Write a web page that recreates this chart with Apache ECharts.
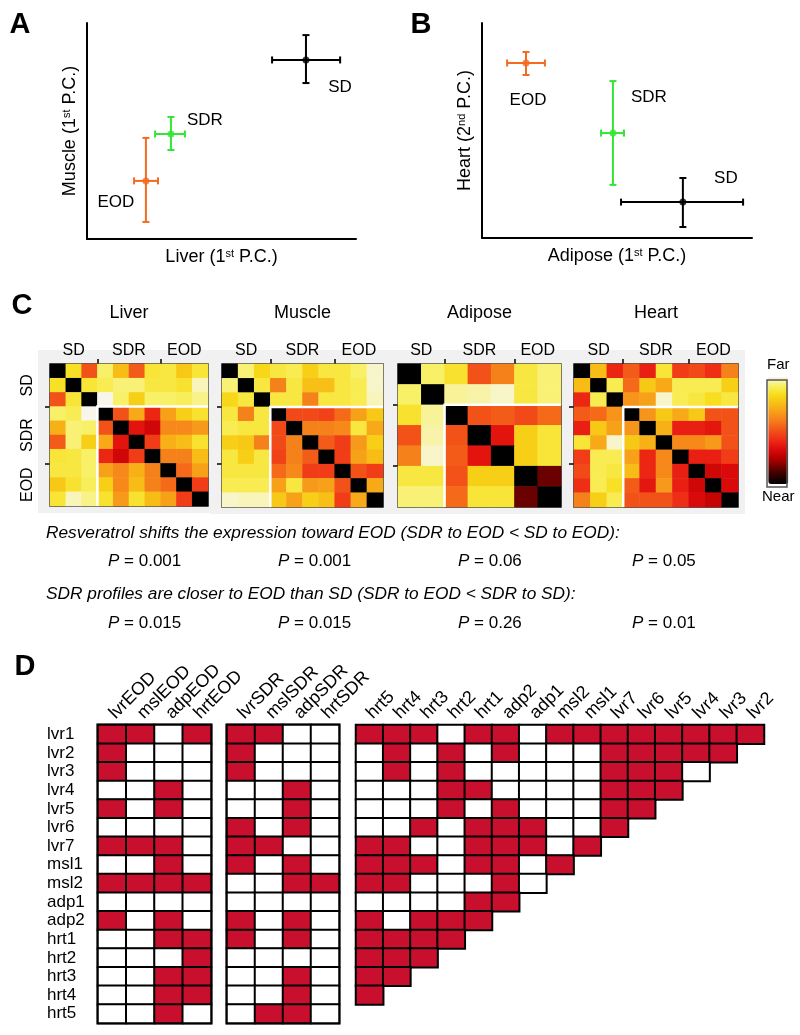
<!DOCTYPE html>
<html><head><meta charset="utf-8">
<script src="https://cdn.jsdelivr.net/npm/echarts@6/dist/echarts.min.js"></script>
<style>html,body{margin:0;padding:0;background:#fff}#c{width:800px;height:1035px}</style>
</head><body><div id="c"></div>
<script>
// ================= DATA =================
const groups = ['SD', 'SDR', 'EOD'];

// Panel A: Liver (1st P.C.) vs Muscle (1st P.C.)  [arbitrary PC units, 0-100]
const aX   = [81.4, 31.2, 21.9];
const aXlo = [68.8, 25.3, 17.5];
const aXhi = [94.1, 36.4, 26.4];
const aY   = [82.9, 48.6, 26.9];
const aYlo = [72.2, 41.2, 7.9];
const aYhi = [94.4, 56.5, 46.8];

// Panel B: Adipose (1st P.C.) vs Heart (2nd P.C.)
const bX   = [74.4, 48.5, 16.3];
const bXlo = [51.5, 44.1, 9.3];
const bXhi = [96.7, 52.6, 23.3];
const bY   = [16.7, 48.8, 81.4];
const bYlo = [5.1, 24.7, 75.8];
const bYhi = [27.9, 73.0, 86.5];

// Panel C: distance matrices (0 = near, 1 = far)
const tissues = ['Liver', 'Muscle', 'Adipose', 'Heart'];
const groupSizes = [[3, 4, 3], [3, 4, 3], [2, 3, 2], [3, 4, 3]];
const liverDist = [
  [0.00,0.85,0.50,0.92,0.75,0.52,0.87,0.88,0.78,0.87],
  [0.85,0.00,0.87,0.90,0.93,0.93,0.88,0.88,0.86,0.97],
  [0.50,0.87,0.00,1.00,0.92,0.80,0.92,0.92,0.91,0.94],
  [0.92,0.90,1.00,0.00,0.50,0.70,0.40,0.68,0.80,0.86],
  [0.72,0.93,0.92,0.50,0.00,0.35,0.30,0.62,0.62,0.66],
  [0.52,0.93,0.80,0.70,0.35,0.00,0.45,0.72,0.75,0.86],
  [0.87,0.88,0.92,0.40,0.30,0.45,0.00,0.60,0.60,0.75],
  [0.88,0.88,0.92,0.68,0.62,0.72,0.60,0.00,0.55,0.68],
  [0.78,0.86,0.91,0.80,0.62,0.75,0.60,0.55,0.00,0.45],
  [0.87,0.97,0.94,0.86,0.66,0.86,0.75,0.68,0.45,0.00]
];
const muscleDist = [
  [0.00,0.93,0.82,0.88,0.90,0.80,0.88,0.88,0.92,0.98],
  [0.93,0.00,0.88,0.60,0.88,0.76,0.76,0.88,0.90,0.98],
  [0.82,0.88,0.00,0.88,0.88,0.60,0.88,0.88,0.90,0.97],
  [0.88,0.60,0.88,0.00,0.48,0.48,0.46,0.55,0.68,0.78],
  [0.90,0.88,0.88,0.48,0.00,0.60,0.60,0.62,0.88,0.70],
  [0.80,0.78,0.60,0.48,0.60,0.00,0.52,0.45,0.66,0.80],
  [0.88,0.80,0.88,0.46,0.60,0.52,0.00,0.45,0.68,0.75],
  [0.88,0.88,0.88,0.55,0.62,0.45,0.45,0.00,0.50,0.45],
  [0.90,0.90,0.90,0.68,0.88,0.66,0.68,0.50,0.00,0.70],
  [0.98,0.97,0.97,0.78,0.68,0.80,0.76,0.45,0.70,0.00]
];
const adiposeDist = [
  [0.00,0.92,0.86,0.50,0.60,0.88,0.93],
  [0.92,0.00,0.95,0.96,0.98,0.88,0.93],
  [0.86,0.95,0.00,0.50,0.52,0.48,0.55],
  [0.50,0.96,0.50,0.00,0.35,0.80,0.87],
  [0.60,0.98,0.52,0.35,0.00,0.80,0.87],
  [0.88,0.88,0.50,0.80,0.80,0.00,0.15],
  [0.93,0.93,0.55,0.87,0.87,0.15,0.00]
];
const heartDist = [
  [0.00,0.75,0.40,0.52,0.38,0.87,0.45,0.48,0.42,0.60],
  [0.75,0.00,0.90,0.55,0.78,0.70,0.90,0.90,0.90,0.80],
  [0.40,0.90,0.00,0.65,0.68,0.98,0.90,0.88,0.84,0.88],
  [0.52,0.55,0.65,0.00,0.65,0.78,0.70,0.78,0.50,0.50],
  [0.38,0.78,0.68,0.65,0.00,0.72,0.38,0.38,0.36,0.50],
  [0.87,0.70,0.98,0.78,0.72,0.00,0.62,0.62,0.66,0.50],
  [0.45,0.90,0.90,0.68,0.40,0.62,0.00,0.38,0.38,0.45],
  [0.48,0.90,0.88,0.75,0.40,0.62,0.38,0.00,0.30,0.32],
  [0.42,0.90,0.85,0.52,0.36,0.66,0.38,0.30,0.00,0.32],
  [0.60,0.80,0.90,0.50,0.50,0.50,0.42,0.32,0.28,0.00]
];
const colorbarText = ['Far', 'Near'];

// P values
const shiftText = 'Resveratrol shifts the expression toward EOD (SDR to EOD < SD to EOD):';
const pShift = ['0.001', '0.001', '0.06', '0.05'];
const closerText = 'SDR profiles are closer to EOD than SD (SDR to EOD < SDR to SD):';
const pCloser = ['0.015', '0.015', '0.26', '0.01'];

// Panel D
const features = ['lvr1','lvr2','lvr3','lvr4','lvr5','lvr6','lvr7','msl1','msl2','adp1','adp2','hrt1','hrt2','hrt3','hrt4','hrt5'];
const eodCols = ['lvrEOD', 'mslEOD', 'adpEOD', 'hrtEOD'];
const sdrCols = ['lvrSDR', 'mslSDR', 'adpSDR', 'hrtSDR'];
const eodHits = [
  [1,1,0,1],[1,0,0,0],[1,0,0,0],[0,0,1,0],[1,0,1,0],[0,0,0,0],[1,1,1,0],[0,0,1,0],
  [1,1,1,1],[0,0,0,0],[1,0,1,0],[0,0,1,1],[0,0,0,1],[0,0,1,1],[0,0,1,1],[0,0,1,0]
];
const sdrHits = [
  [1,1,0,0],[1,0,0,0],[1,0,0,0],[0,0,1,0],[0,0,1,0],[1,0,1,0],[1,1,0,0],[1,0,1,0],
  [0,0,1,1],[0,0,0,0],[1,0,1,0],[1,0,1,0],[0,0,0,0],[0,0,1,0],[0,0,1,0],[0,1,1,0]
];
const triCols = ['hrt5','hrt4','hrt3','hrt2','hrt1','adp2','adp1','msl2','msl1','lvr7','lvr6','lvr5','lvr4','lvr3','lvr2'];
const triRows = [
  [1,1,1,0,1,1,0,1,1,1,1,1,1,1,1],
  [0,1,0,1,0,1,0,0,0,1,1,1,1,1],
  [0,1,0,1,0,0,0,0,0,1,1,1,0],
  [0,0,0,1,1,0,0,0,0,1,1,1],
  [0,0,0,1,0,1,0,0,0,1,1],
  [0,0,1,0,1,1,1,0,0,1],
  [1,1,0,0,1,1,1,0,1],
  [1,1,1,0,1,1,0,1],
  [1,1,0,0,0,1,0],
  [0,0,0,0,1,1],
  [1,0,1,1,1],
  [1,1,1,1],
  [1,1,1],
  [1,1],
  [1]
];

// ================= STYLE / LAYOUT =================
const FONT = 'Liberation Sans, Arial, Helvetica, sans-serif';
const groupColor = ['#000000', '#33e633', '#f36a21'];
const hitRed = '#c8102e';
const hotColors = ['#000000','#300000','#780000','#b80000','#e00c0c','#ee2e16','#f25218',
                   '#f57a1a','#f79c1a','#f8bc16','#f8dc18','#f8f060','#f8f6ec'];

const grids = [], xAxes = [], yAxes = [], series = [], graphics = [];
function addGrid(g) { grids.push(g); return grids.length - 1; }

function errRender(params, api) {
  const x = api.value(0), xl = api.value(1), xh = api.value(2);
  const y = api.value(3), yl = api.value(4), yh = api.value(5);
  const l = api.coord([xl, y]), r = api.coord([xh, y]);
  const b = api.coord([x, yl]), t = api.coord([x, yh]);
  const h = 3.5;
  const st = { stroke: api.visual('color'), lineWidth: 2 };
  const ln = (x1, y1, x2, y2) => ({ type: 'line', shape: { x1, y1, x2, y2 }, style: st });
  return { type: 'group', children: [
    ln(l[0], l[1], r[0], r[1]),
    ln(l[0], l[1] - h, l[0], l[1] + h),
    ln(r[0], r[1] - h, r[0], r[1] + h),
    ln(b[0], b[1], t[0], t[1]),
    ln(b[0] - h, b[1], b[0] + h, b[1]),
    ln(t[0] - h, t[1], t[0] + h, t[1])
  ]};
}

function scatterPanel(box, X, Xlo, Xhi, Y, Ylo, Yhi, xName, yName, labelOffsets) {
  const gi = addGrid(box);
  const base = {
    gridIndex: gi, type: 'value', min: 0, max: 100,
    splitLine: { show: false }, axisTick: { show: false }, axisLabel: { show: false },
    axisLine: { show: true, onZero: false, lineStyle: { color: '#000', width: 2 } },
    nameLocation: 'middle',
    nameTextStyle: { fontSize: 18, color: '#000', fontFamily: FONT,
      rich: { s: { fontSize: 11, verticalAlign: 'top', color: '#000', fontFamily: FONT } } }
  };
  xAxes.push(Object.assign({}, base, { name: xName, nameGap: 9 }));
  yAxes.push(Object.assign({}, base, { name: yName, nameGap: 8 }));
  const xi = xAxes.length - 1, yi = yAxes.length - 1;
  groups.forEach((g, i) => {
    series.push({
      type: 'custom', xAxisIndex: xi, yAxisIndex: yi, renderItem: errRender, silent: true, z: 3,
      itemStyle: { color: groupColor[i] }, encode: { x: [0, 1, 2], y: [3, 4, 5] },
      data: [[X[i], Xlo[i], Xhi[i], Y[i], Ylo[i], Yhi[i]]]
    });
    series.push({
      type: 'scatter', xAxisIndex: xi, yAxisIndex: yi, symbolSize: 7, silent: true, z: 4,
      itemStyle: { color: groupColor[i] },
      data: [{ name: g, value: [X[i], Y[i]] }],
      label: { show: true, formatter: '{b}', position: 'inside', offset: labelOffsets[i],
        fontSize: 17, color: '#000', opacity: 1, textBorderWidth: 0, fontFamily: FONT }
    });
  });
}

scatterPanel({ left: 87, top: 23, width: 269, height: 216 }, aX, aXlo, aXhi, aY, aYlo, aYhi,
  'Liver (1{s|st} P.C.)', 'Muscle (1{s|st} P.C.)', [[34, 27], [34, -14], [-30, 21]]);
scatterPanel({ left: 482, top: 23, width: 270, height: 215 }, bX, bXlo, bXhi, bY, bYlo, bYhi,
  'Adipose (1{s|st} P.C.)', 'Heart (2{s|nd} P.C.)', [[43, -24], [36, -36], [2, 37]]);

// Panel C heatmaps
const hmBoxes = [
  { left: 50, top: 364, width: 158, height: 142 },
  { left: 222, top: 364, width: 161, height: 143 },
  { left: 398, top: 364, width: 163, height: 143 },
  { left: 574, top: 364, width: 164, height: 143 }
];
const dists = [liverDist, muscleDist, adiposeDist, heartDist];
const hmSeries = [];
dists.forEach((M, k) => {
  const n = M.length, sizes = groupSizes[k];
  const bounds = [], centers = [];
  let acc = 0;
  sizes.forEach((s, i) => { centers.push(acc + s / 2); acc += s; if (i < sizes.length - 1) bounds.push(acc); });
  const nameAt = v => { const i = centers.findIndex(c => Math.abs(c - v) < 1e-6); return i >= 0 ? groups[i] : ''; };
  const box = hmBoxes[k];
  const gi = addGrid(Object.assign({ show: true, borderColor: '#222', borderWidth: 1.5, backgroundColor: 'transparent' }, box));
  graphics.push({ type: 'rect', z: -10, shape: { x: box.left - 12, y: box.top - 14, width: box.width + 19, height: box.height + 21 },
    style: { fill: '#f1f1f1' } });
  const idx = [...Array(n).keys()];
  xAxes.push({ type: 'category', gridIndex: gi, data: idx, show: false, position: 'bottom' });
  const cx = xAxes.length - 1;
  xAxes.push({
    type: 'value', gridIndex: gi, position: 'top', min: 0, max: n,
    name: tissues[k], nameLocation: 'middle', nameGap: 42,
    nameTextStyle: { fontSize: 18, color: '#000', fontFamily: FONT },
    axisLine: { show: false }, splitLine: { show: false },
    axisTick: { show: true, customValues: bounds, length: 5, lineStyle: { color: '#000', width: 1.5 } },
    axisLabel: { show: true, customValues: centers, formatter: nameAt, fontSize: 16, color: '#000', margin: 5, fontFamily: FONT }
  });
  const vx = xAxes.length - 1;
  yAxes.push({ type: 'category', gridIndex: gi, data: idx, inverse: true, show: false, position: 'right' });
  const cy = yAxes.length - 1;
  yAxes.push({
    type: 'value', gridIndex: gi, position: 'left', min: 0, max: n, inverse: true,
    axisLine: { show: false }, splitLine: { show: false },
    axisTick: { show: true, customValues: bounds, length: 5, lineStyle: { color: '#000', width: 1.5 } },
    axisLabel: { show: k === 0, customValues: centers, formatter: nameAt, rotate: 90, fontSize: 16, color: '#000', margin: 14, fontFamily: FONT }
  });
  const vy = yAxes.length - 1;
  const cells = [];
  M.forEach((row, i) => row.forEach((v, j) => cells.push([j, i, v])));
  hmSeries.push(series.length);
  series.push({ type: 'heatmap', xAxisIndex: cx, yAxisIndex: cy, data: cells, silent: true, emphasis: { disabled: true } });
  series.push({
    type: 'custom', xAxisIndex: vx, yAxisIndex: vy, silent: true, z: 10,
    data: [[sizes[0], n]],
    renderItem: (p, api) => {
      const g = api.value(0), m = api.value(1);
      return { type: 'polyline', shape: { points: [api.coord([m, g]), api.coord([g, g]), api.coord([g, m])] },
        style: { stroke: '#fff', lineWidth: 2.5, fill: null } };
    }
  });
});

// Panel D
const dSeries = [];
function hitGrid(box, cols, rows, cells, opts) {
  const gi = addGrid(Object.assign({ show: opts.frame, borderColor: '#000', borderWidth: 3, backgroundColor: 'transparent' }, box));
  xAxes.push({
    type: 'category', gridIndex: gi, data: cols, position: 'top',
    axisLine: { show: false }, axisTick: { show: false }, splitLine: { show: false },
    axisLabel: { interval: 0, rotate: -45, fontSize: 18, color: '#000', margin: 9, fontFamily: FONT }
  });
  yAxes.push({
    type: 'category', gridIndex: gi, data: rows, inverse: true,
    axisLine: { show: false }, axisTick: { show: false }, splitLine: { show: false },
    axisLabel: opts.rowLabels ? { show: true, interval: 0, align: 'left', margin: 51, fontSize: 17, color: '#000', fontFamily: FONT } : { show: false }
  });
  dSeries.push(series.length);
  series.push({
    type: 'heatmap', xAxisIndex: xAxes.length - 1, yAxisIndex: yAxes.length - 1, data: cells, silent: true,
    emphasis: { disabled: true }, itemStyle: { borderColor: '#000', borderWidth: 2 }
  });
}
const toCells = M => { const c = []; M.forEach((row, i) => row.forEach((v, j) => c.push([j, i, v]))); return c; };
hitGrid({ left: 98, top: 725, width: 113, height: 298 }, eodCols, features, toCells(eodHits), { frame: true, rowLabels: true });
hitGrid({ left: 227, top: 725, width: 112, height: 298 }, sdrCols, features, toCells(sdrHits), { frame: true, rowLabels: false });
hitGrid({ left: 356, top: 725, width: 408, height: 279.4 }, triCols, features.slice(0, 15), toCells(triRows), { frame: false, rowLabels: false });

// Panel letters
[['A', 20, 25], ['B', 421, 25], ['C', 22, 306], ['D', 25, 667]].forEach(([t, x, y]) => {
  graphics.push({ type: 'text', x, y, z: 20, style: { text: t, fontSize: 29, fontWeight: 'bold', fill: '#000',
    fontFamily: FONT, align: 'center', verticalAlign: 'middle' } });
});

// P-value text block
const pX = [108, 278, 458, 632];
[[shiftText, pShift, 533, 561], [closerText, pCloser, 594, 623]].forEach(([txt, ps, y1, y2]) => {
  graphics.push({ type: 'text', x: 46, y: y1, z: 20, style: { text: txt, fontSize: 17.3, fontStyle: 'italic', fill: '#000',
    fontFamily: FONT, align: 'left', verticalAlign: 'middle' } });
  ps.forEach((p, i) => graphics.push({ type: 'text', x: pX[i], y: y2, z: 20, style: {
    text: '{i|P} = ' + p, fontSize: 17, fill: '#000', fontFamily: FONT, align: 'left', verticalAlign: 'middle',
    rich: { i: { fontStyle: 'italic', fontSize: 17, fontFamily: FONT, fill: '#000' } } } }));
});

// colorbar frame
graphics.push({ type: 'rect', z: 20, shape: { x: 767, y: 380, width: 20, height: 107 }, style: { fill: null, stroke: '#555', lineWidth: 1.5 } });

const option = {
  animation: false,
  backgroundColor: '#fff',
  textStyle: { fontFamily: FONT },
  grid: grids, xAxis: xAxes, yAxis: yAxes, series,
  visualMap: [
    { type: 'continuous', min: 0, max: 1, seriesIndex: hmSeries, calculable: false, hoverLink: false,
      orient: 'vertical', left: 762, top: 357, itemWidth: 20, itemHeight: 107, padding: 0,
      text: colorbarText, textGap: 5, textStyle: { fontSize: 15, color: '#000', fontFamily: FONT },
      inRange: { color: hotColors } },
    { type: 'piecewise', show: false, seriesIndex: dSeries,
      pieces: [{ value: 0, color: '#ffffff' }, { value: 1, color: hitRed }] }
  ],
  graphic: graphics
};
const chart = echarts.init(document.getElementById('c'));
chart.setOption(option);
</script></body></html>
